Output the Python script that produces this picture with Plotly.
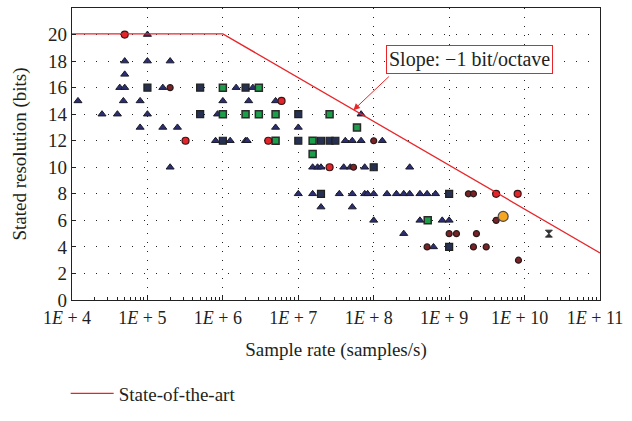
import plotly.graph_objects as go

# ---------------- data ----------------
sota_x = [1e4, 1e6, 1e11]
sota_y = [20.05, 20.05, 3.55]

tri_x = [1e5,
         5e4, 1e5, 2e5,
         5e4,
         4.3e4, 5e4, 1.6e5, 1.5e6, 2.5e6,
         1.2e4, 4.8e4, 8e4, 1e6, 2.2e6, 5e6,
         2.5e4, 4e4, 1e5, 8.5e5, 6.8e7,
         8e4, 1.6e5, 2.5e5, 5e6, 1e7,
         8e5, 1.25e6, 2e6, 2.1e6, 4.2e7, 5.2e7, 6.8e7, 1.3e8,
         2e5, 1.55e7, 1.8e7, 2e7, 4e7, 4.9e7, 7.6e7, 3e8,
         1e7, 1.55e7, 3.5e7, 5.2e7, 7.6e7, 8.3e7, 1e8, 1.5e8, 2e8, 2.5e8, 3e8, 4.1e8, 5.1e8, 6.6e8,
         2e7, 5.2e7,
         1e8, 4.1e8, 8.1e8, 1e9,
         2.5e8,
         6.2e8]
tri_y = [20,
         18, 18, 18,
         17,
         16, 16, 16, 16, 16,
         15, 15, 15, 15, 15, 15,
         14, 14, 14, 14, 14,
         13, 13, 13, 13, 13,
         12, 12, 12, 12, 12, 12, 12, 12,
         10, 10, 10, 10, 10, 10, 10, 10,
         8, 8, 8, 8, 8, 8, 8, 8, 8, 8, 8, 8, 8, 8,
         7, 7,
         6, 6, 6, 6,
         5,
         4]

dsq_x = [1e5, 5e5, 2e6, 5e5, 1e7, 1e6, 1e7, 2e7, 2.6e7, 3.1e7, 1e8, 2e7, 1e9, 1e9]
dsq_y = [16, 16, 16, 14, 14, 12, 12, 12, 12, 12, 10, 8, 8, 4]

gsq_x = [1e6, 3e6, 1e6, 2e6, 3e6, 5e6, 2.6e7, 6e7, 5e6, 1.55e7, 1.55e7, 5.2e8]
gsq_y = [16, 16, 14, 14, 14, 14, 14, 13, 12, 12, 11, 6]

red_x = [5e4, 6e6, 3.2e5, 4e6, 2.6e7, 4.2e9, 8.1e9]
red_y = [20, 15, 12, 12, 10, 8, 8]

dred_x = [2e5, 1e8, 5.4e7, 1.8e9, 2.1e9, 4.2e9, 1e9, 1.25e9, 2.3e9, 5.1e8, 2.1e9, 3.1e9, 8.3e9]
dred_y = [16, 12, 10, 8, 8, 6, 5, 5, 5, 4, 4, 4, 3]

orange_x = [5.2e9]
orange_y = [6.3]

hour_x = [2.1e10]
hour_y = [5]

xtick_vals = [1e4, 1e5, 1e6, 1e7, 1e8, 1e9, 1e10, 1e11]
xtick_text = ["1<i>E</i> + 4", "1<i>E</i> + 5", "1<i>E</i> + 6", "1<i>E</i> + 7",
              "1<i>E</i> + 8", "1<i>E</i> + 9", "1<i>E</i> + 10", "1<i>E</i> + 11"]
ytick_vals = list(range(0, 23, 2))

# annotation positions (log10 of sample rate for the log axis)
arrow_logx = 7.73
arrow_y = 14.3
label_logx = 9.27
label_y = 18.13

FONT = "Liberation Serif"
TXT = "#231f20"

fig = go.Figure()

def add_markers(x, y, symbol, size, fill, line, lw=1.0):
    fig.add_trace(go.Scatter(x=x, y=y, mode="markers", showlegend=False,
                             marker=dict(symbol=symbol, size=size, color=fill,
                                         line=dict(color=line, width=lw))))

add_markers(tri_x, tri_y, "triangle-up", 7, "#2b2e72", "#1a1a2a", 1.0)
add_markers(dsq_x, dsq_y, "square", 7, "#263050", "#202020", 1.2)
add_markers(gsq_x, gsq_y, "square", 7, "#1c9e4a", "#2a2a2a", 1.5)
add_markers(dred_x, dred_y, "circle", 6, "#7a2226", "#2a1a1a", 1.2)
add_markers(red_x, red_y, "circle", 7, "#e3242b", "#3a1414", 1.2)
add_markers(orange_x, orange_y, "circle", 10, "#f5a623", "#4a4a4a", 1.2)
add_markers(hour_x, hour_y, "hourglass", 7, "#333333", "#222222", 0.8)

fig.add_trace(go.Scatter(x=sota_x, y=sota_y, mode="lines", name="State-of-the-art",
                         line=dict(color="#e8262a", width=1.3), showlegend=True))

fig.add_annotation(x=arrow_logx, y=arrow_y, xref="x", yref="y", text="",
                   showarrow=True, arrowhead=2, arrowsize=1.3, arrowwidth=1,
                   arrowcolor="#e8262a", ax=37, ay=-35, standoff=0)
fig.add_annotation(x=label_logx, y=label_y, xref="x", yref="y",
                   text="Slope: \u22121 bit/octave", showarrow=False,
                   font=dict(family=FONT, size=20, color=TXT),
                   bordercolor="#e8262a", borderwidth=1, borderpad=2, bgcolor="white")

fig.update_layout(
    width=632, height=421,
    margin=dict(l=72, r=32, t=8, b=110),
    paper_bgcolor="white", plot_bgcolor="white",
    font=dict(family=FONT, size=19, color=TXT),
    legend=dict(orientation="h", x=-0.012, xanchor="left", y=-0.32, yanchor="middle",
                itemwidth=43,
                font=dict(family=FONT, size=19, color=TXT), bgcolor="rgba(0,0,0,0)"),
)

fig.update_xaxes(type="log", range=[4, 11], automargin=False,
                 tickvals=xtick_vals, ticktext=xtick_text,
                 ticks="inside", ticklen=5, tickcolor="#222",
                 ticklabelshift=-5, ticklabelstandoff=1,
                 minor=dict(ticks="inside", ticklen=3, tickcolor="#222", dtick="D1", showgrid=False),
                 showgrid=True, gridcolor="#222", griddash="1px,8px", gridwidth=1,
                 showline=True, linecolor="#222", linewidth=1.2, mirror=True,
                 zeroline=False,
                 title=dict(text="Sample rate (samples/s)", font=dict(family=FONT, size=19, color=TXT),
                            standoff=15),
                 tickfont=dict(family=FONT, size=18, color=TXT))

fig.update_yaxes(range=[0, 22], tickvals=ytick_vals, automargin=False,
                 ticks="inside", ticklen=4, tickcolor="#222",
                 showgrid=True, gridcolor="#222", griddash="1px,11px", gridwidth=1,
                 showline=True, linecolor="#222", linewidth=1.2, mirror=True,
                 zeroline=False,
                 title=dict(text="Stated resolution (bits)", font=dict(family=FONT, size=19, color=TXT),
                            standoff=16),
                 tickfont=dict(family=FONT, size=19, color=TXT))

fig.write_html("out.html", post_script="document.body.style.margin='0';",
               config={"displayModeBar": False})
